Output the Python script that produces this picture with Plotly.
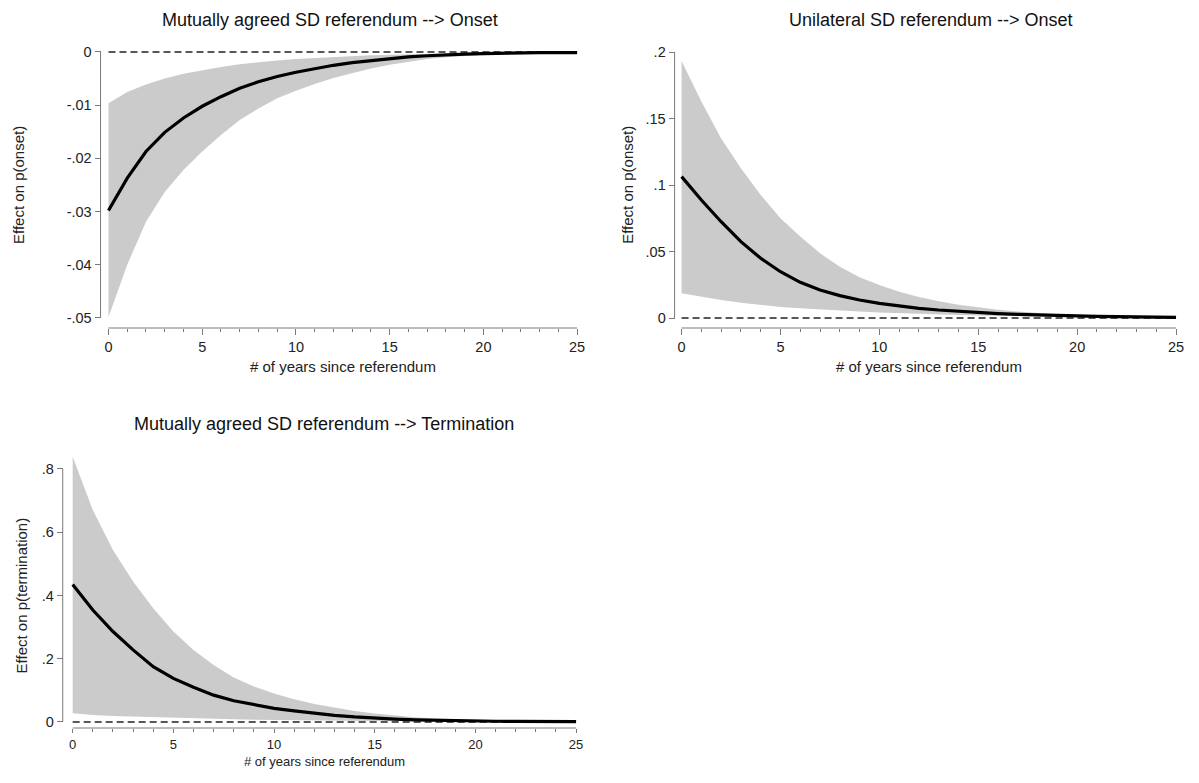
import plotly.graph_objects as go

W, H = 1199, 783
OFF = 8                      # default page body margin
FW, FH = W - 2 * OFF, H - 2 * OFF
# measured on-screen placement of the figure's paper area
SX0, SX1 = 8, 1191
SY0, SY1 = 13, 770

years = list(range(26))

# Panel 1: Mutually agreed SD referendum --> Onset
p1_mean = [-0.0298, -0.0237, -0.0187, -0.0151, -0.0124, -0.0102, -0.0084, -0.0068, -0.0056, -0.0046,
           -0.0038, -0.0031, -0.0025, -0.0020, -0.0016, -0.0012, -0.0009, -0.0007, -0.0005, -0.0004,
           -0.0003, -0.0002, -0.0002, -0.0001, -0.0001, -0.0001]
p1_lo = [-0.0498, -0.0400, -0.0319, -0.0263, -0.0222, -0.0187, -0.0156, -0.0128, -0.0106, -0.0087,
         -0.0073, -0.0060, -0.0049, -0.0040, -0.0031, -0.0024, -0.0018, -0.0013, -0.0010, -0.0007,
         -0.0005, -0.0004, -0.0003, -0.0002, -0.0002, -0.0001]
p1_hi = [-0.00965, -0.0075, -0.0061, -0.0050, -0.0041, -0.0034, -0.0028, -0.0023, -0.0019, -0.0016,
         -0.0013, -0.0011, -0.0009, -0.0007, -0.0006, -0.0005, -0.0004, -0.0003, -0.0002, -0.0002,
         -0.0001, -0.0001, -0.0001, -0.00005, -0.00003, 0.0]

# Panel 2: Unilateral SD referendum --> Onset
p2_mean = [0.1063, 0.0887, 0.0724, 0.0574, 0.0449, 0.0348, 0.0268, 0.0211, 0.0168, 0.0135,
           0.0110, 0.0090, 0.0073, 0.0060, 0.0050, 0.0040, 0.0033, 0.0027, 0.0022, 0.0018,
           0.0015, 0.0012, 0.0010, 0.0008, 0.0007, 0.0005]
p2_lo = [0.0186, 0.0160, 0.0135, 0.0115, 0.0098, 0.0083, 0.0073, 0.0063, 0.0055, 0.0048,
         0.0042, 0.0036, 0.0031, 0.0026, 0.0022, 0.0019, 0.0016, 0.0013, 0.0011, 0.0009,
         0.0008, 0.0006, 0.0005, 0.0004, 0.0003, 0.0003]
p2_hi = [0.1933, 0.1627, 0.1350, 0.1126, 0.0925, 0.0750, 0.0612, 0.0486, 0.0386, 0.0306,
         0.0248, 0.0198, 0.0158, 0.0126, 0.0100, 0.0080, 0.0062, 0.0048, 0.0037, 0.0029,
         0.0023, 0.0018, 0.0014, 0.0011, 0.0009, 0.0007]

# Panel 3: Mutually agreed SD referendum --> Termination
p3_mean = [0.435, 0.354, 0.286, 0.228, 0.175, 0.138, 0.110, 0.085, 0.067, 0.054,
           0.043, 0.035, 0.0275, 0.021, 0.016, 0.012, 0.0090, 0.0068, 0.0052, 0.0040,
           0.0031, 0.0024, 0.0019, 0.0015, 0.0012, 0.0010]
p3_lo = [0.0275, 0.022, 0.019, 0.017, 0.015, 0.013, 0.011, 0.0095, 0.0085, 0.0075,
         0.0065, 0.0058, 0.0050, 0.0044, 0.0038, 0.0033, 0.0028, 0.0024, 0.0020, 0.0017,
         0.0014, 0.0012, 0.0010, 0.0008, 0.0007, 0.0006]
p3_hi = [0.839, 0.670, 0.544, 0.444, 0.360, 0.286, 0.228, 0.180, 0.141, 0.112,
         0.090, 0.072, 0.057, 0.045, 0.035, 0.027, 0.020, 0.015, 0.011, 0.0085,
         0.0065, 0.0050, 0.0038, 0.0029, 0.0022, 0.0017]

titles = ["Mutually agreed SD referendum --> Onset",
          "Unilateral SD referendum --> Onset",
          "Mutually agreed SD referendum --> Termination"]
ytitles = ["Effect on p(onset)", "Effect on p(onset)", "Effect on p(termination)"]
xtitle = "# of years since referendum"

x_ticks = [0, 5, 10, 15, 20, 25]
y_ticks = [[-0.05, -0.04, -0.03, -0.02, -0.01, 0],
           [0, 0.05, 0.1, 0.15, 0.2],
           [0, 0.2, 0.4, 0.6, 0.8]]
y_ticktext = [["-.05", "-.04", "-.03", "-.02", "-.01", "0"],
              ["0", ".05", ".1", ".15", ".2"],
              ["0", ".2", ".4", ".6", ".8"]]

panels = [
    dict(px0=108, px25=579, v_a=0.0, py_a=52, v_b=-0.05, py_b=318, yr=[-0.0506, 0.0006],
         yaxis_px=100, xaxis_py=328, title_xy=(331, 20), ytitle_x=18,
         xtitle_y=367, xtitle_anchor="middle", xtitle_size=15, xtick_size=14.5, xtick_len=6),
    dict(px0=684, px25=1181, v_a=0.0, py_a=318, v_b=0.2, py_b=52, yr=[-0.0025, 0.2025],
         yaxis_px=677, xaxis_py=328, title_xy=(935, 20), ytitle_x=629,
         xtitle_y=367, xtitle_anchor="middle", xtitle_size=15, xtick_size=14.5, xtick_len=6),
    dict(px0=72, px25=578, v_a=0.0, py_a=722, v_b=0.8, py_b=469, yr=[-0.01, 0.85],
         yaxis_px=62, xaxis_py=728, title_xy=(325, 424), ytitle_x=21,
         xtitle_y=770, xtitle_anchor="bottom", xtitle_size=13, xtick_size=13, xtick_len=4),
]
XPAD = 0.15


def fx(px):
    return (px - SX0) / (SX1 - SX0)


def fy(py):
    return 1 - (py - SY0) / (SY1 - SY0)


data = [(p1_mean, p1_lo, p1_hi), (p2_mean, p2_lo, p2_hi), (p3_mean, p3_lo, p3_hi)]

fig = go.Figure()
AXC = "#7a7a7a"
TXC = "#222222"
FONT = "Liberation Sans, Arial, sans-serif"
shapes, annotations = [], []

for i, (pn, (mean, lo, hi)) in enumerate(zip(panels, data)):
    sfx = "" if i == 0 else str(i + 1)
    xa, ya = "x" + sfx, "y" + sfx
    fig.add_trace(go.Scatter(x=years, y=lo, mode="lines", line=dict(width=0, color="#cbcbcb"),
                             xaxis=xa, yaxis=ya, showlegend=False, hoverinfo="skip"))
    fig.add_trace(go.Scatter(x=years, y=hi, mode="lines", line=dict(width=0, color="#cbcbcb"),
                             fill="tonexty", fillcolor="#cbcbcb",
                             xaxis=xa, yaxis=ya, showlegend=False, hoverinfo="skip"))
    fig.add_trace(go.Scatter(x=[years[0], years[-1]], y=[0, 0], mode="lines",
                             line=dict(color="#222222", width=1.4, dash="7px,4px"),
                             xaxis=xa, yaxis=ya, showlegend=False, hoverinfo="skip"))
    fig.add_trace(go.Scatter(x=years, y=mean, mode="lines",
                             line=dict(color="black", width=3.2),
                             xaxis=xa, yaxis=ya, showlegend=False))

    sc = (pn["px25"] - pn["px0"]) / 25.0
    xd = [fx(pn["px0"] - XPAD * sc), fx(pn["px25"] + XPAD * sc)]
    ysc = (pn["py_b"] - pn["py_a"]) / (pn["v_b"] - pn["v_a"])
    pyr0 = pn["py_a"] + (pn["yr"][0] - pn["v_a"]) * ysc
    pyr1 = pn["py_a"] + (pn["yr"][1] - pn["v_a"]) * ysc
    yd = sorted([fy(pyr0), fy(pyr1)])
    xpos = fy(pn["xaxis_py"])
    ypos = fx(pn["yaxis_px"])

    fig.layout["xaxis" + sfx] = dict(
        domain=xd, range=[-XPAD, 25 + XPAD], anchor="free", position=xpos,
        tickvals=x_ticks, ticktext=[str(v) for v in x_ticks], ticks="outside", ticklen=pn["xtick_len"],
        tickcolor=AXC, tickwidth=1, showline=False, showgrid=False, zeroline=False,
        tickfont=dict(family=FONT, size=pn["xtick_size"], color=TXC),
        minor=dict(dtick=1, tick0=0, ticks="outside", ticklen=3, tickcolor=AXC, tickwidth=1, showgrid=False),
    )
    fig.layout["yaxis" + sfx] = dict(
        domain=yd, range=pn["yr"], anchor="free", position=ypos,
        tickvals=y_ticks[i], ticktext=y_ticktext[i], ticks="outside", ticklen=6,
        tickcolor=AXC, tickwidth=1, showline=False, showgrid=False, zeroline=False,
        tickfont=dict(family=FONT, size=14.5, color=TXC),
    )
    shapes.append(dict(type="line", xref=xa, yref="paper", x0=x_ticks[0], x1=x_ticks[-1],
                       y0=xpos, y1=xpos, line=dict(color=AXC, width=1)))
    shapes.append(dict(type="line", xref="paper", yref=ya, x0=ypos, x1=ypos,
                       y0=y_ticks[i][0], y1=y_ticks[i][-1], line=dict(color=AXC, width=1)))
    tx, ty = pn["title_xy"]
    annotations.append(dict(text=titles[i], xref="paper", yref="paper", x=fx(tx), y=fy(ty),
                            xanchor="center", yanchor="middle", showarrow=False,
                            font=dict(family=FONT, size=18, color="#111111")))
    annotations.append(dict(text=ytitles[i], xref="paper", yref=ya, x=fx(pn["ytitle_x"]),
                            y=(y_ticks[i][0] + y_ticks[i][-1]) / 2, textangle=-90,
                            xanchor="center", yanchor="middle", showarrow=False,
                            font=dict(family=FONT, size=15, color=TXC)))
    annotations.append(dict(text=xtitle, xref=xa, yref="paper", x=12.5, y=fy(pn["xtitle_y"]),
                            xanchor="center", yanchor=pn["xtitle_anchor"], showarrow=False,
                            borderpad=0,
                            font=dict(family=FONT, size=pn["xtitle_size"], color=TXC)))

fig.update_layout(width=FW, height=FH, margin=dict(l=0, r=0, t=0, b=0),
                  paper_bgcolor="white", plot_bgcolor="white",
                  shapes=shapes, annotations=annotations, showlegend=False)

fig.write_html("out.html")
